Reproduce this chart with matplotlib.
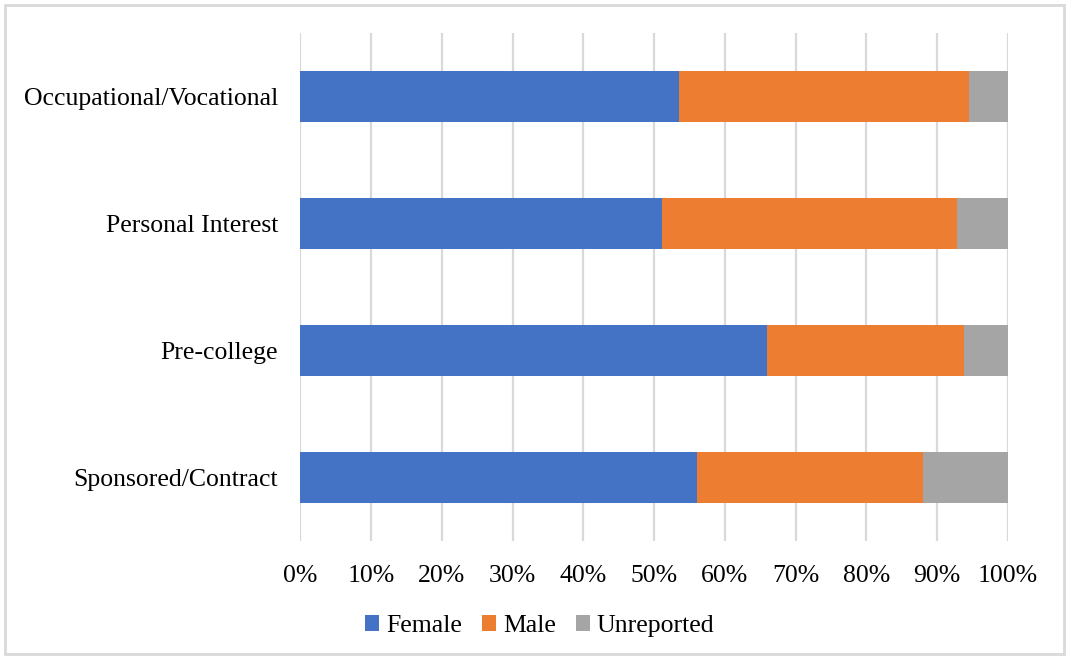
import numpy as np
import matplotlib
matplotlib.use('Agg')
from matplotlib import pyplot as plt
from matplotlib.patches import Rectangle

# categories listed bottom to top
categories = ['Sponsored/Contract', 'Pre-college', 'Personal Interest', 'Occupational/Vocational']
female = [56.0, 65.9, 51.1, 53.5]
male = [32.0, 27.9, 41.8, 41.1]
unreported = [12.0, 6.2, 7.1, 5.4]
series_names = ['Female', 'Male', 'Unreported']
colors = ['#4472c4', '#ed7d31', '#a5a5a5']

plt.rcParams['font.family'] = ['Liberation Serif', 'DejaVu Serif']
FS = 18.5

fig = plt.figure(figsize=(10.67, 6.57), dpi=100)
fig.patches.append(Rectangle((0.005, 0.004), 0.992, 0.988, transform=fig.transFigure,
                             fill=False, edgecolor='#d9d9d9', linewidth=2))
ax = fig.add_axes([0.2816, 0.1766, 0.6628, 0.7732])

y = np.arange(len(categories))
left = np.zeros(len(categories))
for vals, name, c in zip([female, male, unreported], series_names, colors):
    ax.barh(y, vals, left=left, height=0.4, color=c, label=name, zorder=3)
    left += np.array(vals)

ax.set_xlim(0, 100)
ax.set_ylim(-0.5, 3.5)
ax.set_xticks(np.arange(0, 101, 10))
ax.set_xticklabels([f'{v}%' for v in range(0, 101, 10)], fontsize=FS)
ax.set_yticks(y)
ax.set_yticklabels(categories, fontsize=FS)
ax.tick_params(length=0)
ax.tick_params(axis='y', pad=16)
ax.tick_params(axis='x', pad=17)
ax.grid(axis='x', color='#d9d9d9', linewidth=1.6, zorder=0)
for s in ax.spines.values():
    s.set_visible(False)

ax.legend(loc='center', bbox_to_anchor=(0.506, 0.047), bbox_transform=fig.transFigure,
          ncol=3, frameon=False, fontsize=FS, handlelength=0.55, handleheight=0.55,
          handletextpad=0.25, columnspacing=0.8)

fig.savefig('out.png', dpi=100)
